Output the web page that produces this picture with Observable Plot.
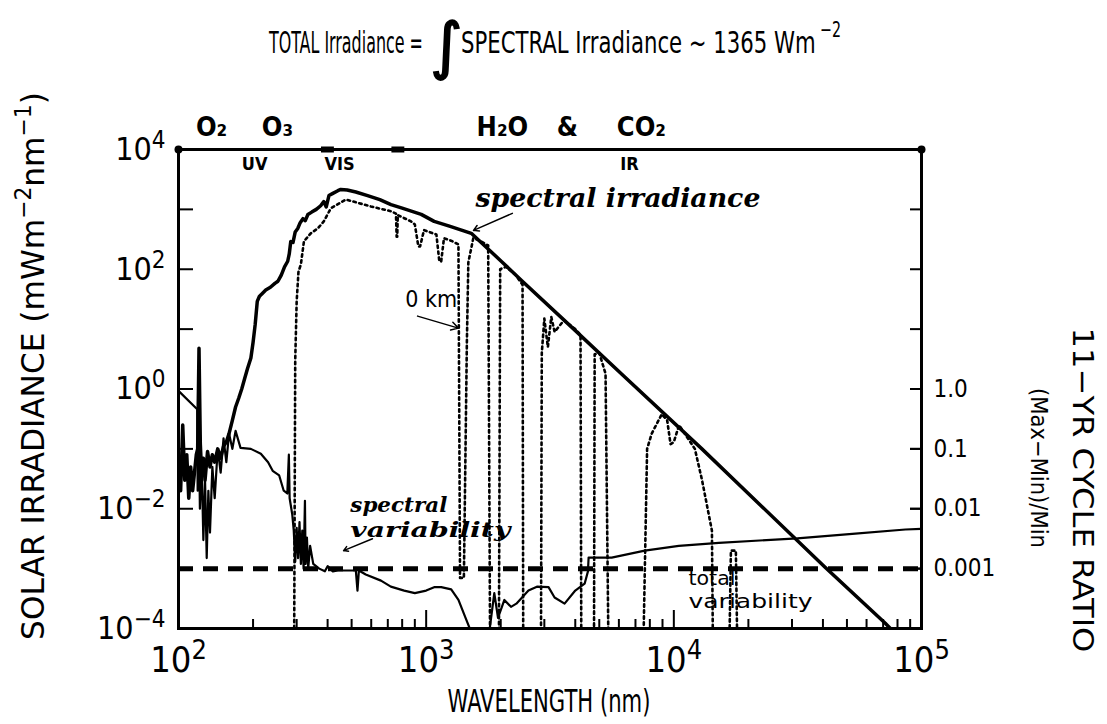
<!DOCTYPE html>
<html><head><meta charset="utf-8">
<script src="https://cdn.jsdelivr.net/npm/d3@7"></script>
<script src="https://cdn.jsdelivr.net/npm/@observablehq/plot@0.6"></script>
<style>
body{margin:0;background:#fff;}
#chart{width:1107px;height:724px;}
</style></head><body><div id="chart"></div>
<script>
// ---------- data ----------
// top-of-atmosphere spectral irradiance (mW m^-2 nm^-1)
const toaWavelength = [100,102,104,106,108,110,112,114,116,118,119.5,121,122.5,124,126,128,131,134,137,140,144,148,152,156,160,165,170,175,180,185,190,196,200,204,208,212,216,225,235,245,252,260,268,276,280,284,290,296,303,310,318,325,333,345,360,375,386,395,405,420,440,452,480,520,580,650,721,800,955,1077,1250,1521,2014,2427,3866,6152,12980,40800,71400,100000];
const toaIrradiance = [0.06,0.02,0.25,0.03,0.08,0.015,0.05,0.02,0.04,0.08,0.1,4.8,0.12,0.04,0.07,0.03,0.09,0.05,0.08,0.06,0.1,0.07,0.11,0.13,0.18,0.3,0.5,0.7,1.0,1.5,2.2,3.3,6,12,29,35,38,45,50,58,63,80,110,136,180,290,280,420,480,600,700,650,820,900,1000,1150,1350,1100,1700,1850,2050,2150,2100,1950,1700,1450,1200,1050,826,630,520,398,135,65,10.8,1.78,0.1,0.00105,0.000122,0.00003];

// surface (0 km) spectral irradiance; 1e-6 = fully absorbed (below the axis)
const surfaceWavelength = [292,296,300,305,312,321,342,365,386,412,474,598,721,755,760,764,768,869,900,930,945,980,1100,1130,1150,1180,1260,1350,1370,1420,1460,1480,1550,1650,1780,1820,1960,1990,2100,2300,2450,2470,2900,2930,3000,3100,3200,3300,3600,4000,4200,4240,4750,4790,5000,5300,5500,7400,7800,8140,8940,9400,9700,10000,10500,12160,13000,14250,14500,16500,17000,17800,18300,100000];
const surfaceIrradiance = [1e-6,3,29,90,121,293,398,480,630,1040,1460,1120,930,850,350,350,800,630,560,240,240,450,380,135,135,330,300,260,0.0007,0.0007,6,130,330,300,250,1e-6,1e-6,100,110,80,55,1e-6,1e-6,4,15,5,16,9,14,10,8,1e-6,1e-6,3.8,4,1.8,1e-6,1e-6,0.1,0.18,0.38,0.3,0.12,0.13,0.25,0.1,0.03,0.0043,1e-6,1e-6,0.002,0.002,1e-6,1e-6];

// 11-yr cycle spectral variability ratio (Max-Min)/Min
const variabilityWavelength = [100,119,119.5,121,122,124,126,128,130,132,134,137,140,144,148,152,156,160,165,170,178,196,215,230,240,255,266,275,279,281,288,292,296,300,304,308,312,316,320,324,326,330,334,340,350,370,390,400,420,440,520,528,535,570,657,720,815,900,1000,1077,1150,1262,1350,1425,1500,1594,1650,1717,1800,1884,1950,2069,2200,2313,2588,2800,3119,3300,3621,4000,4363,4500,4528,5000,5610,7630,10470,15200,31500,52560,86100,100000];
const variabilityRatio = [0.93,0.46,0.02,0.2,0.01,0.06,0.003,0.03,0.0015,0.02,0.004,0.05,0.015,0.1,0.04,0.15,0.06,0.18,0.1,0.2,0.104,0.1,0.083,0.06,0.043,0.036,0.02,0.018,0.08,0.015,0.008,0.0043,0.0013,0.0048,0.0015,0.006,0.0012,0.0043,0.001,0.0136,0.0012,0.0033,0.001,0.0024,0.0012,0.001,0.0009,0.0011,0.0009,0.00093,0.00093,0.00043,0.00093,0.0008,0.00063,0.0005,0.00043,0.00039,0.00043,0.00049,0.00049,0.00045,0.0003,0.00017,0.0001,0.00006,0.00008,0.00005,0.00009,0.00039,0.00015,0.0003,0.00023,0.00026,0.00043,0.0005,0.00049,0.00033,0.00026,0.00043,0.00056,0.0009,0.00153,0.00153,0.00153,0.002,0.0024,0.0027,0.0032,0.0038,0.0045,0.0046];

const totalVariability = 0.001;

// axes
const yLabelTicks = [1e4,1e2,1,1e-2,1e-4];
const yOddTicks = [1e3,1e1,1e-1,1e-3];
const rightTicks = [1e3,1e2,1e1,1,1e-1,1e-2,1e-3];
const ratioTicks = [1,0.1,0.01,0.001];
const ratioTickLabels = ["1.0","0.1","0.01","0.001"];
const xMajorTicks = [1e2,1e3,1e4,1e5];
const xMinorTicks = [1e2,1e3,1e4].flatMap(d => [2,3,4,5,6,7,8,9].map(k => k * d));

// spectral band annotations along the top
const absorberText = ["O₂","O₃","H₂O","&","CO₂"];
const absorberWavelength = [136,251,2032,3715,7396];
const regionText = ["UV","VIS","IR"];
const regionWavelength = [203,447,6620];
const regionBoundaries = [400,770];
const bandEnds = [100,100000];

// curve annotations
const labelIrr = {text:"spectral irradiance", w:1581, v:1500};
const arrowIrr = {w1:2228, v1:858, w2:1553, v2:446};
const label0km = {text:"0 km", w:824, v:31.6};
const arrow0km = {w1:923, v1:16.5, w2:1349, v2:10.4};
const labelVar = {text:"spectral\nvariability", w:494, v:0.0074};
const arrowVar = {w1:607, v1:0.00316, w2:464, v2:0.002};
const labelTot = {text:"total\nvariability", w:11460, v:0.00046};

// ---------- build ----------
const toa = toaWavelength.map((w,i) => ({w, v: toaIrradiance[i]}));
const surface = surfaceWavelength.map((w,i) => ({w, v: surfaceIrradiance[i]}));
const variability = variabilityWavelength.map((w,i) => ({w, v: variabilityRatio[i]}));
const sup = d => { const e = Math.round(Math.log10(d)); return "10^" + (e < 0 ? "−" + (-e) : e); };

const FONT = '"Liberation Sans Narrow","DejaVu Sans Condensed","Liberation Sans",sans-serif';
const SERIF = '"DejaVu Serif","Liberation Serif",serif';

const svg = Plot.plot({
  width: 1107, height: 724,
  marginLeft: 178, marginRight: 186, marginTop: 149, marginBottom: 96,
  style: {background: "#fff", color: "#000", fontFamily: FONT, fontSize: "30px"},
  x: {type: "log", domain: [1e2, 1e5]},
  y: {type: "log", domain: [1e-4, 1e4]},
  marks: [
    Plot.ruleY([totalVariability], {strokeWidth: 5, strokeDasharray: "15,10"}),
    Plot.line(surface, {x: "w", y: "v", clip: true, strokeWidth: 2.6, strokeDasharray: "2.5,3.5"}),
    Plot.line(variability, {x: "w", y: "v", clip: true, strokeWidth: 2.2}),
    Plot.line(toa, {x: "w", y: "v", clip: true, strokeWidth: 3.5}),
    Plot.frame({strokeWidth: 3}),
    // band bar along the top
    Plot.link(regionBoundaries, {x1: d => d * 0.94, x2: d => d * 1.06, y1: 1e4, y2: 1e4, strokeWidth: 6}),
    Plot.dot(bandEnds, {x: d => d, y: 1e4, r: 4, fill: "#000"}),
    Plot.text(absorberText, {x: (d,i) => absorberWavelength[i], text: d => d, frameAnchor: "top", dy: -14, lineAnchor: "bottom", fontSize: 27, fontWeight: "bold"}),
    Plot.text(regionText, {x: (d,i) => regionWavelength[i], text: d => d, frameAnchor: "top", dy: 8, lineAnchor: "top", fontSize: 18, fontWeight: "bold"}),
    // axes
    Plot.axisY(yLabelTicks, {anchor: "left", tickSize: -15, tickPadding: 28, tickFormat: sup, label: null, fontSize: 32, strokeWidth: 2}),
    Plot.axisY(yOddTicks, {anchor: "left", tickSize: -15, fill: "none", label: null, strokeWidth: 2}),
    Plot.axisY(rightTicks, {anchor: "right", tickSize: -12, fill: "none", label: null, strokeWidth: 2}),
    Plot.axisY(ratioTicks, {anchor: "right", tickSize: -12, tickPadding: 24, tickFormat: d => ratioTickLabels[ratioTicks.indexOf(d)], label: null, fontSize: 24, strokeWidth: 2}),
    Plot.axisX(xMajorTicks, {anchor: "bottom", tickSize: -18, tickPadding: 36, tickFormat: sup, label: null, fontSize: 36, strokeWidth: 2}),
    Plot.axisX(xMinorTicks, {anchor: "bottom", tickSize: -9, fill: "none", label: null, strokeWidth: 2}),
    // annotations
    Plot.text([labelIrr], {x: "w", y: "v", text: "text", textAnchor: "start", fontFamily: SERIF, fontStyle: "italic", fontWeight: "bold", fontSize: 26}),
    Plot.arrow([arrowIrr], {x1: "w1", y1: "v1", x2: "w2", y2: "v2", strokeWidth: 1.5, headLength: 6}),
    Plot.text([label0km], {x: "w", y: "v", text: "text", textAnchor: "start", fontSize: 23}),
    Plot.arrow([arrow0km], {x1: "w1", y1: "v1", x2: "w2", y2: "v2", strokeWidth: 1.5, headLength: 8}),
    Plot.text([labelVar], {x: "w", y: "v", text: "text", textAnchor: "start", fontFamily: SERIF, fontStyle: "italic", fontWeight: "bold", fontSize: 21, lineHeight: 1.2}),
    Plot.arrow([arrowVar], {x1: "w1", y1: "v1", x2: "w2", y2: "v2", strokeWidth: 1.5, headLength: 5}),
    Plot.text([labelTot], {x: "w", y: "v", text: "text", textAnchor: "start", fontSize: 20, lineHeight: 1.2})
  ]
});
document.getElementById("chart").appendChild(svg);

const NS = "http://www.w3.org/2000/svg";
// superscript exponents in tick labels
svg.querySelectorAll("text").forEach(t => {
  if (t.querySelector("tspan")) return;
  const m = (t.textContent || "").match(/^10\^(.+)$/);
  if (m) {
    t.textContent = "10";
    const ts = document.createElementNS(NS, "tspan");
    ts.setAttribute("dy", "-0.5em");
    ts.setAttribute("font-size", "75%");
    ts.textContent = m[1];
    t.appendChild(ts);
  }
});
// stretch annotation lines to the widths seen in the reference
const lineLengths = {"serif|spectral irradiance": 285, "serif|spectral": 97, "serif|variability": 160, "sans|variability": 124, "sans|total": 47};
svg.querySelectorAll("text, tspan").forEach(t => {
  if (t.tagName === "text" && t.querySelector("tspan")) return;
  const g = t.closest("g");
  const fam = g && (g.getAttribute("font-family") || "").includes("Serif") ? "serif" : "sans";
  const L = lineLengths[fam + "|" + t.textContent];
  if (L) {
    t.setAttribute("textLength", L);
    t.setAttribute("lengthAdjust", "spacingAndGlyphs");
  }
});

// free-standing texts (title, axis titles), scaled horizontally to the reference widths
const s = d3.select(svg);
function addText(x, y, parts, opts) {
  const t = s.append("text").attr("x", 0).attr("y", 0)
    .attr("font-family", opts.family || FONT).attr("font-size", opts.size)
    .attr("text-anchor", opts.anchor || "start")
    .attr("fill", "#000");
  if (opts.weight) t.attr("font-weight", opts.weight);
  if (opts.stroke) t.attr("stroke", "#000").attr("stroke-width", opts.stroke);
  let raised = false;
  parts.forEach(p => {
    const ts = t.append("tspan").text(p.t);
    if (p.sup) { ts.attr("font-size", "70%").attr("dy", "-0.6em"); raised = true; }
    else if (raised) { ts.attr("dy", "0.42em"); raised = false; }
  });
  let sx = 1;
  if (opts.length) {
    const natural = t.node().getComputedTextLength();
    if (natural > 0) sx = opts.length / natural;
  }
  t.attr("transform", `translate(${x},${y})${opts.rotate ? ` rotate(${opts.rotate})` : ""} scale(${sx},1)`);
  return t;
}
// title
addText(269, 53, [{t: "TOTAL Irradiance ="}], {size: 31, length: 154});
addText(430, 67, [{t: "∫"}], {size: 62, family: '"DejaVu Sans",sans-serif', stroke: 1.6});
addText(461, 53, [{t: "SPECTRAL Irradiance ~ 1365 Wm"}], {size: 31, length: 355});
addText(820, 37, [{t: "−2"}], {size: 21, length: 21});
// axis titles
addText(44, 366, [{t: "SOLAR IRRADIANCE (mWm"}, {t: "−2", sup: true}, {t: "nm"}, {t: "−1", sup: true}, {t: ")"}], {size: 32, rotate: -90, anchor: "middle", length: 548});
addText(549, 712, [{t: "WAVELENGTH (nm)"}], {size: 32, anchor: "middle", length: 203});
addText(1073, 490, [{t: "11−YR CYCLE RATIO"}], {size: 29, rotate: 90, anchor: "middle", length: 325});
addText(1031, 468, [{t: "(Max−Min)/Min"}], {size: 23, rotate: 90, anchor: "middle", length: 160});
</script></body></html>
